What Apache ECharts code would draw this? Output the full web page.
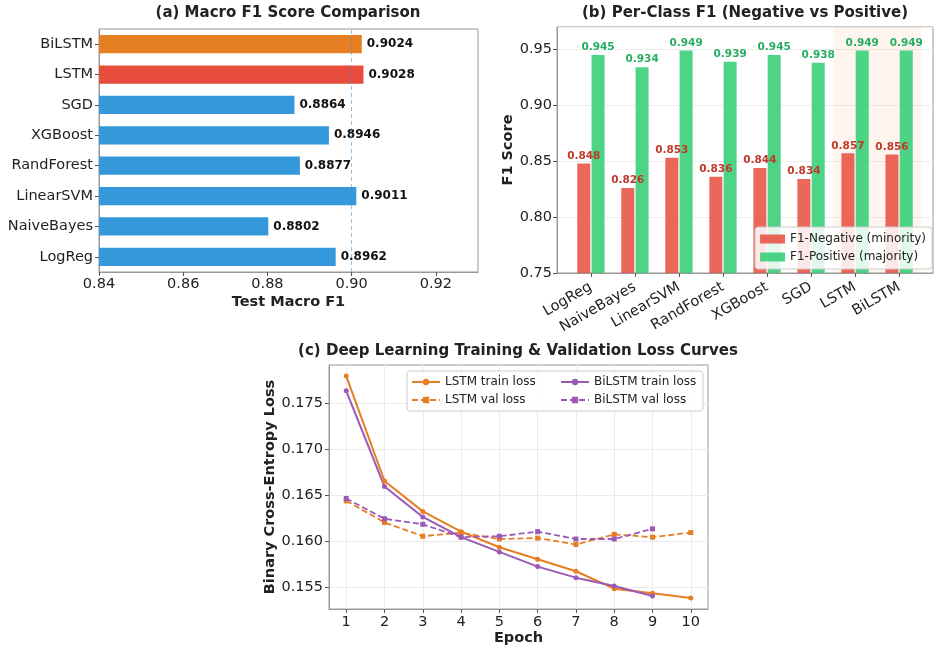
<!DOCTYPE html>
<html>
<head>
<meta charset="utf-8">
<script src="https://cdn.jsdelivr.net/npm/echarts@6/dist/echarts.min.js"></script>
<style>
html, body { margin: 0; padding: 0; background: #fff; }
#main { width: 938px; height: 650px; }
</style>
</head>
<body>
<div id="main"></div>
<script>
// 模型名称
var modelNames = ['LogReg', 'NaiveBayes', 'LinearSVM', 'RandForest', 'XGBoost', 'SGD', 'LSTM', 'BiLSTM'];
// (a) 测试集 Macro F1
var macroF1 = [0.8962, 0.8802, 0.9011, 0.8877, 0.8946, 0.8864, 0.9028, 0.9024];
// (b) 每类 F1
var f1Negative = [0.848, 0.826, 0.853, 0.836, 0.844, 0.834, 0.857, 0.856];
var f1Positive = [0.945, 0.934, 0.949, 0.939, 0.945, 0.938, 0.949, 0.949];
// (c) 损失曲线
var lstmEpochs = [1, 2, 3, 4, 5, 6, 7, 8, 9, 10];
var lstmTrain = [0.1779, 0.1665, 0.1632, 0.1610, 0.1593, 0.1580, 0.1567, 0.1548, 0.1543, 0.1538];
var lstmVal = [0.16435, 0.1620, 0.1605, 0.1609, 0.1602, 0.1603, 0.1596, 0.1607, 0.1604, 0.1609];
var bilstmEpochs = [1, 2, 3, 4, 5, 6, 7, 8, 9];
var bilstmTrain = [0.1763, 0.1659, 0.1626, 0.1604, 0.1588, 0.1572, 0.1560, 0.1551, 0.1540];
var bilstmVal = [0.1646, 0.1624, 0.1618, 0.1604, 0.1605, 0.1610, 0.1602, 0.1602, 0.1613];
var lossTicks = [0.155, 0.160, 0.165, 0.170, 0.175];

var FONT = 'DejaVu Sans';
var TXT = '#222';
var FRAME = '#999';

var blue = '#3498db', red = '#e74c3c', orange = '#e67e22', purple = '#9b59b6';

function pairs(xs, ys) {
	return ys.map(function (v, i) { return [xs[i], v]; });
}

// (a) 柱子颜色
var macroData = macroF1.map(function (v, i) {
	var c = blue;
	if (modelNames[i] == 'LSTM') c = red;
	if (modelNames[i] == 'BiLSTM') c = orange;
	return { value: v, itemStyle: { color: c } };
});
// 经典模型最好成绩 -> 虚线
var bestClassical = Math.max.apply(null, macroF1.slice(0, 6));

var idx = modelNames.map(function (n, i) { return i; });

// (c) y 轴范围 (matplotlib 5% 边距)
var allLoss = lstmTrain.concat(lstmVal, bilstmTrain, bilstmVal);
var lossLo = Math.min.apply(null, allLoss), lossHi = Math.max.apply(null, allLoss);
var lossPad = (lossHi - lossLo) * 0.05;

var chart = echarts.init(document.getElementById('main'));

var tickLabel = { color: TXT, fontSize: 14.5, fontFamily: FONT };
var axisName = { color: TXT, fontSize: 14.5, fontWeight: 'bold', fontFamily: FONT };
var frameLine = { show: true, onZero: false, lineStyle: { color: FRAME, width: 1 } };
var tick = { show: true, length: 4, lineStyle: { color: '#555' } };

var option = {
	backgroundColor: '#fff',
	animation: false,
	title: [
		{ text: '(a) Macro F1 Score Comparison', left: 288, top: 6, textAlign: 'center', padding: 0,
			textStyle: { fontSize: 15, fontWeight: 'bold', color: TXT, fontFamily: FONT } },
		{ text: '(b) Per-Class F1 (Negative vs Positive)', left: 745, top: 6, textAlign: 'center', padding: 0,
			textStyle: { fontSize: 15, fontWeight: 'bold', color: TXT, fontFamily: FONT } },
		{ text: '(c) Deep Learning Training & Validation Loss Curves', left: 518, top: 344, textAlign: 'center', padding: 0,
			textStyle: { fontSize: 15, fontWeight: 'bold', color: TXT, fontFamily: FONT } }
	],
	legend: [
		{
			data: ['F1-Negative (minority)', 'F1-Positive (majority)'],
			orient: 'vertical', right: 6, top: 227,
			padding: [5, 6, 5, 5], itemGap: 4, itemWidth: 25, itemHeight: 9,
			icon: 'rect',
			backgroundColor: 'rgba(255,255,255,0.85)', borderColor: '#ccc', borderWidth: 1, borderRadius: 3,
			textStyle: { fontSize: 12, color: TXT, fontFamily: FONT, lineHeight: 14 }
		},
		{
			data: ['LSTM train loss', 'LSTM val loss'],
			orient: 'vertical', left: 407, top: 371,
			padding: [4, 148, 4, 4], itemGap: 4, itemWidth: 28, itemHeight: 8,
			backgroundColor: 'rgba(255,255,255,0.85)', borderColor: '#ccc', borderWidth: 1, borderRadius: 3,
			textStyle: { fontSize: 12, color: TXT, fontFamily: FONT, lineHeight: 14, width: 110 }
		},
		{
			data: ['BiLSTM train loss', 'BiLSTM val loss'],
			orient: 'vertical', left: 560, top: 375, z: 6,
			padding: 0, itemGap: 4, itemWidth: 28, itemHeight: 8,
			textStyle: { fontSize: 12, color: TXT, fontFamily: FONT, lineHeight: 14 }
		}
	],
	grid: [
		{ left: 99, top: 29, width: 379, height: 243, show: true, borderColor: FRAME, borderWidth: 1 },
		{ left: 557, top: 27, width: 376, height: 246, show: true, borderColor: FRAME, borderWidth: 1 },
		{ left: 329, top: 365, width: 379, height: 244, show: true, borderColor: FRAME, borderWidth: 1 }
	],
	xAxis: [
		{
			gridIndex: 0, type: 'value', min: 0.84, max: 0.93, interval: 0.02,
			name: 'Test Macro F1', nameLocation: 'middle', nameGap: 23, nameTextStyle: axisName,
			axisLine: frameLine, axisTick: tick,
			axisLabel: Object.assign({ margin: 5, showMaxLabel: false, formatter: function (v) { return v.toFixed(2); } }, tickLabel),
			splitLine: { show: false }
		},
		{
			gridIndex: 1, type: 'value', min: -0.77, max: 7.77,
			axisLine: frameLine,
			axisTick: Object.assign({ customValues: idx }, tick),
			axisLabel: Object.assign({ customValues: idx, rotate: 30, margin: 13,
				formatter: function (v) { return modelNames[Math.round(v)]; } }, tickLabel),
			splitLine: { show: false }
		},
		{
			gridIndex: 2, type: 'value', min: 0.55, max: 10.45,
			name: 'Epoch', nameLocation: 'middle', nameGap: 22, nameTextStyle: axisName,
			axisLine: frameLine,
			axisTick: Object.assign({ customValues: lstmEpochs }, tick),
			axisLabel: Object.assign({ customValues: lstmEpochs, margin: 6 }, tickLabel),
			splitLine: { show: true, lineStyle: { color: '#ebebeb', width: 1 } }
		}
	],
	yAxis: [
		{
			gridIndex: 0, type: 'category', data: modelNames,
			axisLine: frameLine, axisTick: Object.assign({ alignWithLabel: true }, tick),
			axisLabel: Object.assign({ margin: 6 }, tickLabel)
		},
		{
			gridIndex: 1, type: 'value', min: 0.75, max: 0.97, interval: 0.05,
			name: 'F1 Score', nameLocation: 'middle', nameGap: 40, nameTextStyle: axisName,
			axisLine: frameLine, axisTick: tick,
			axisLabel: Object.assign({ margin: 5, showMaxLabel: false, formatter: function (v) { return v.toFixed(2); } }, tickLabel),
			splitLine: { show: true, lineStyle: { color: '#ededed', width: 1 } }
		},
		{
			gridIndex: 2, type: 'value', min: lossLo - lossPad, max: lossHi + lossPad,
			name: 'Binary Cross-Entropy Loss', nameLocation: 'middle', nameGap: 50, nameTextStyle: axisName,
			axisLine: frameLine,
			axisTick: Object.assign({ customValues: lossTicks }, tick),
			axisLabel: Object.assign({ customValues: lossTicks, margin: 6,
				formatter: function (v) { return v.toFixed(3); } }, tickLabel),
			splitLine: { show: true, lineStyle: { color: '#ebebeb', width: 1 } }
		}
	],
	series: [
		// (a)
		{
			type: 'bar', xAxisIndex: 0, yAxisIndex: 0, data: macroData, barWidth: '60%',
			label: { show: true, position: 'right', distance: 5, fontSize: 12, fontWeight: 'bold', color: '#111', fontFamily: FONT,
				formatter: function (p) { return p.value.toFixed(4); } },
			markLine: {
				silent: true, symbol: 'none', label: { show: false },
				lineStyle: { color: 'rgba(52,152,219,0.55)', type: [4, 3], width: 1 },
				data: [{ xAxis: bestClassical }]
			}
		},
		// (b)
		{
			name: 'F1-Negative (minority)', type: 'bar', xAxisIndex: 1, yAxisIndex: 1,
			data: pairs(idx, f1Negative), barWidth: 13, barGap: '10%',
			itemStyle: { color: 'rgba(231,76,60,0.85)' },
			label: { show: true, position: 'top', distance: 2, fontSize: 10.5, fontWeight: 'bold', color: '#c0392b', fontFamily: FONT,
				formatter: function (p) { return p.value[1].toFixed(3); } },
			markArea: {
				silent: true,
				itemStyle: { color: 'rgba(230,126,34,0.08)' },
				data: [[{ xAxis: 5.5 }, { xAxis: 7.5 }]]
			}
		},
		{
			name: 'F1-Positive (majority)', type: 'bar', xAxisIndex: 1, yAxisIndex: 1,
			data: pairs(idx, f1Positive), barWidth: 13, barGap: '10%',
			itemStyle: { color: 'rgba(46,204,113,0.85)' },
			label: { show: true, position: 'top', distance: 2, fontSize: 10.5, fontWeight: 'bold', color: '#27ae60', fontFamily: FONT,
				formatter: function (p) { return p.value[1].toFixed(3); } }
		},
		// (c)
		{
			name: 'LSTM train loss', type: 'line', xAxisIndex: 2, yAxisIndex: 2,
			data: pairs(lstmEpochs, lstmTrain), symbol: 'circle', symbolSize: 5,
			lineStyle: { color: orange, width: 2 }, itemStyle: { color: orange }
		},
		{
			name: 'LSTM val loss', type: 'line', xAxisIndex: 2, yAxisIndex: 2,
			data: pairs(lstmEpochs, lstmVal), symbol: 'rect', symbolSize: 5,
			lineStyle: { color: orange, width: 1.8, type: [6, 3] }, itemStyle: { color: orange }
		},
		{
			name: 'BiLSTM train loss', type: 'line', xAxisIndex: 2, yAxisIndex: 2,
			data: pairs(bilstmEpochs, bilstmTrain), symbol: 'circle', symbolSize: 5,
			lineStyle: { color: purple, width: 2 }, itemStyle: { color: purple }
		},
		{
			name: 'BiLSTM val loss', type: 'line', xAxisIndex: 2, yAxisIndex: 2,
			data: pairs(bilstmEpochs, bilstmVal), symbol: 'rect', symbolSize: 5,
			lineStyle: { color: purple, width: 1.8, type: [6, 3] }, itemStyle: { color: purple }
		}
	]
};
chart.setOption(option);
</script>
</body>
</html>
